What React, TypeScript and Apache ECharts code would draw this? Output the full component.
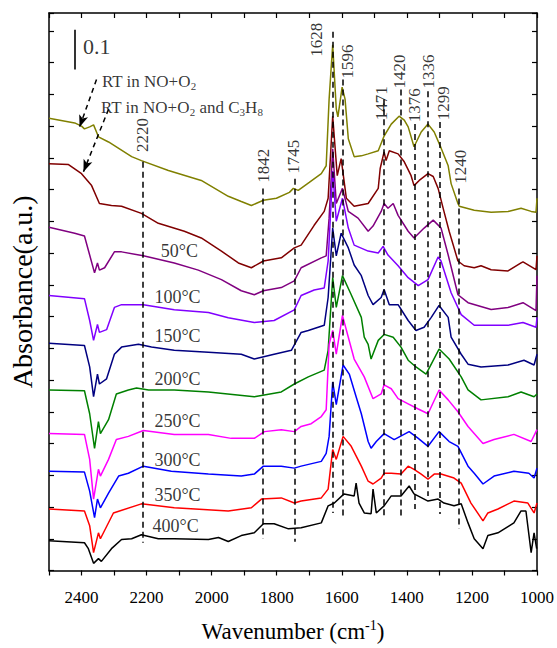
import React, { useEffect, useRef } from 'react';
import * as echarts from 'echarts';

const FONT = 'Liberation Serif';

// Spectra: [wavenumber (cm-1), stacked absorbance]
const rtNoO2: [number, number][] = [
  [2500, 1.140], [2421, 1.128], [2400, 1.120], [2391, 1.113], [2375, 1.118], [2363, 1.123], [2348, 1.093],
  [2317, 1.080], [2246, 1.043], [2216, 1.033], [2133, 1.008], [2032, 0.983], [1949, 0.943], [1909, 0.930],
  [1878, 0.920], [1841, 0.933], [1801, 0.938], [1761, 0.953], [1749, 0.963], [1734, 0.958], [1700, 0.978],
  [1663, 1.000], [1648, 1.020], [1639, 1.188], [1628, 1.325], [1617, 1.163], [1612, 1.143], [1599, 1.218],
  [1590, 1.188], [1580, 1.088], [1562, 1.043], [1540, 1.045], [1519, 1.050], [1488, 1.058], [1470, 1.095],
  [1448, 1.125], [1424, 1.145], [1408, 1.135], [1396, 1.118], [1378, 1.068], [1356, 1.105], [1335, 1.125],
  [1316, 1.105], [1295, 1.065], [1273, 1.020], [1264, 0.975], [1243, 0.925], [1239, 0.918], [1193, 0.908],
  [1141, 0.903], [1089, 0.905], [1049, 0.913], [1018, 0.905], [1003, 0.903], [1000, 0.938],
];
const rtNoO2C3H8: [number, number][] = [
  [2500, 1.025], [2440, 1.023], [2400, 1.000], [2369, 0.970], [2345, 0.925], [2308, 0.920], [2277, 0.918],
  [2216, 0.900], [2164, 0.875], [2084, 0.855], [2032, 0.838], [1970, 0.805], [1918, 0.775], [1878, 0.763],
  [1841, 0.780], [1786, 0.788], [1746, 0.813], [1725, 0.820], [1685, 0.870], [1654, 0.905], [1642, 0.938],
  [1628, 1.145], [1614, 0.995], [1602, 1.038], [1586, 0.938], [1562, 0.918], [1519, 0.925], [1488, 0.963],
  [1482, 1.013], [1470, 1.055], [1464, 1.033], [1454, 1.058], [1427, 1.050], [1408, 1.030], [1387, 0.995],
  [1378, 0.970], [1362, 0.983], [1335, 1.000], [1319, 0.993], [1304, 0.963], [1286, 0.905], [1270, 0.855],
  [1243, 0.780], [1224, 0.768], [1193, 0.763], [1172, 0.768], [1141, 0.758], [1089, 0.755], [1049, 0.775],
  [1043, 0.778], [1003, 0.758], [1000, 0.793],
];
const t50: [number, number][] = [
  [2500, 0.865], [2421, 0.850], [2391, 0.843], [2375, 0.795], [2360, 0.750], [2351, 0.775], [2345, 0.757],
  [2329, 0.763], [2299, 0.803], [2277, 0.803], [2210, 0.793], [2115, 0.775], [2041, 0.757], [1970, 0.733],
  [1909, 0.705], [1869, 0.695], [1841, 0.705], [1786, 0.713], [1746, 0.730], [1725, 0.763], [1663, 0.788],
  [1648, 0.793], [1639, 0.888], [1628, 1.063], [1617, 0.925], [1598, 0.963], [1580, 0.905], [1550, 0.888],
  [1519, 0.855], [1504, 0.868], [1479, 0.905], [1470, 0.925], [1458, 0.913], [1442, 0.925], [1427, 0.895],
  [1396, 0.855], [1378, 0.838], [1347, 0.863], [1319, 0.883], [1295, 0.863], [1273, 0.795], [1243, 0.695],
  [1212, 0.675], [1141, 0.658], [1089, 0.663], [1043, 0.675], [1003, 0.655], [1000, 0.743],
];
const t100: [number, number][] = [
  [2500, 0.693], [2391, 0.685], [2375, 0.630], [2363, 0.580], [2351, 0.620], [2345, 0.600], [2323, 0.607],
  [2299, 0.663], [2277, 0.670], [2210, 0.670], [2115, 0.657], [2010, 0.650], [1949, 0.637], [1869, 0.625],
  [1808, 0.630], [1746, 0.657], [1725, 0.693], [1685, 0.707], [1654, 0.712], [1642, 0.780], [1628, 1.007],
  [1617, 0.880], [1598, 0.938], [1580, 0.863], [1562, 0.820], [1519, 0.805], [1488, 0.800], [1473, 0.817],
  [1458, 0.795], [1427, 0.768], [1396, 0.738], [1365, 0.718], [1335, 0.733], [1304, 0.790], [1295, 0.780],
  [1264, 0.700], [1233, 0.645], [1193, 0.618], [1089, 0.618], [1043, 0.625], [1003, 0.613], [1000, 0.638],
];
const t150: [number, number][] = [
  [2500, 0.573], [2391, 0.567], [2375, 0.513], [2363, 0.438], [2351, 0.495], [2345, 0.470], [2323, 0.483],
  [2299, 0.545], [2277, 0.563], [2225, 0.570], [2185, 0.563], [2115, 0.555], [2010, 0.550], [1909, 0.545],
  [1869, 0.533], [1808, 0.545], [1755, 0.555], [1725, 0.600], [1703, 0.605], [1654, 0.618], [1642, 0.688],
  [1628, 0.863], [1617, 0.793], [1602, 0.850], [1580, 0.813], [1562, 0.770], [1540, 0.743], [1519, 0.693],
  [1504, 0.670], [1479, 0.688], [1470, 0.708], [1454, 0.670], [1427, 0.670], [1396, 0.630], [1372, 0.605],
  [1347, 0.613], [1325, 0.638], [1301, 0.668], [1273, 0.638], [1264, 0.588], [1233, 0.545], [1212, 0.520],
  [1172, 0.513], [1089, 0.518], [1040, 0.530], [1009, 0.518], [1000, 0.545],
];
const t200: [number, number][] = [
  [2500, 0.455], [2391, 0.453], [2375, 0.395], [2360, 0.308], [2348, 0.375], [2342, 0.345], [2317, 0.380],
  [2293, 0.445], [2256, 0.455], [2231, 0.460], [2194, 0.455], [2115, 0.455], [2010, 0.450], [1869, 0.438],
  [1786, 0.450], [1746, 0.470], [1703, 0.488], [1654, 0.505], [1642, 0.555], [1628, 0.738], [1617, 0.663],
  [1598, 0.743], [1571, 0.695], [1540, 0.638], [1531, 0.588], [1519, 0.570], [1510, 0.533], [1488, 0.580],
  [1470, 0.595], [1442, 0.588], [1418, 0.563], [1396, 0.530], [1372, 0.513], [1341, 0.495], [1301, 0.558],
  [1270, 0.533], [1233, 0.488], [1212, 0.455], [1172, 0.430], [1089, 0.438], [1049, 0.450], [1009, 0.438],
  [1000, 0.445],
];
const t250: [number, number][] = [
  [2500, 0.345], [2391, 0.343], [2375, 0.280], [2363, 0.180], [2348, 0.255], [2342, 0.238], [2317, 0.280],
  [2293, 0.330], [2256, 0.338], [2210, 0.353], [2115, 0.343], [2010, 0.343], [1940, 0.333], [1869, 0.333],
  [1838, 0.350], [1786, 0.355], [1746, 0.350], [1725, 0.363], [1694, 0.370], [1663, 0.388], [1648, 0.405],
  [1639, 0.570], [1628, 0.605], [1617, 0.545], [1598, 0.643], [1580, 0.588], [1562, 0.533], [1531, 0.488],
  [1504, 0.433], [1479, 0.445], [1470, 0.468], [1448, 0.458], [1427, 0.433], [1396, 0.420], [1365, 0.407],
  [1335, 0.395], [1301, 0.455], [1273, 0.430], [1243, 0.400], [1212, 0.363], [1166, 0.320], [1132, 0.330],
  [1071, 0.343], [1018, 0.325], [1000, 0.355],
];
const t300: [number, number][] = [
  [2500, 0.250], [2391, 0.248], [2375, 0.200], [2360, 0.133], [2351, 0.180], [2342, 0.158], [2317, 0.195],
  [2286, 0.238], [2256, 0.245], [2210, 0.263], [2124, 0.250], [2010, 0.243], [1909, 0.238], [1869, 0.243],
  [1841, 0.263], [1786, 0.263], [1746, 0.258], [1725, 0.263], [1663, 0.275], [1648, 0.295], [1639, 0.338],
  [1628, 0.475], [1617, 0.418], [1596, 0.518], [1577, 0.495], [1556, 0.438], [1540, 0.395], [1519, 0.325],
  [1510, 0.308], [1494, 0.325], [1470, 0.345], [1439, 0.330], [1393, 0.350], [1365, 0.333], [1335, 0.313],
  [1301, 0.350], [1270, 0.325], [1243, 0.313], [1212, 0.263], [1193, 0.245], [1166, 0.218], [1132, 0.238],
  [1071, 0.250], [1025, 0.245], [1009, 0.233], [1000, 0.258],
];
const t350: [number, number][] = [
  [2500, 0.155], [2391, 0.150], [2375, 0.113], [2363, 0.045], [2348, 0.095], [2342, 0.080], [2302, 0.145],
  [2216, 0.168], [2115, 0.158], [1949, 0.150], [1878, 0.158], [1847, 0.180], [1786, 0.183], [1746, 0.170],
  [1725, 0.175], [1663, 0.183], [1642, 0.205], [1628, 0.305], [1617, 0.280], [1596, 0.338], [1571, 0.313],
  [1540, 0.263], [1519, 0.225], [1504, 0.218], [1479, 0.233], [1470, 0.245], [1448, 0.245], [1418, 0.243],
  [1396, 0.263], [1378, 0.255], [1356, 0.243], [1335, 0.230], [1316, 0.243], [1295, 0.243], [1255, 0.233],
  [1233, 0.220], [1203, 0.170], [1166, 0.125], [1151, 0.145], [1120, 0.155], [1071, 0.175], [1028, 0.170],
  [1009, 0.145], [1000, 0.170],
];
const t400: [number, number][] = [
  [2500, 0.075], [2391, 0.070], [2379, 0.055], [2363, 0.018], [2348, 0.030], [2339, 0.023], [2308, 0.055],
  [2277, 0.078], [2246, 0.080], [2216, 0.090], [2164, 0.080], [2115, 0.080], [2010, 0.078], [1979, 0.083],
  [1949, 0.073], [1909, 0.088], [1869, 0.095], [1841, 0.118], [1808, 0.118], [1764, 0.105], [1725, 0.108],
  [1663, 0.120], [1642, 0.163], [1623, 0.170], [1593, 0.193], [1562, 0.188], [1556, 0.220], [1547, 0.170],
  [1531, 0.145], [1510, 0.143], [1504, 0.205], [1494, 0.145], [1470, 0.163], [1448, 0.188], [1418, 0.188],
  [1393, 0.213], [1378, 0.193], [1335, 0.175], [1304, 0.180], [1286, 0.170], [1255, 0.163], [1233, 0.168],
  [1212, 0.120], [1193, 0.080], [1166, 0.055], [1151, 0.088], [1120, 0.095], [1071, 0.120], [1049, 0.150],
  [1034, 0.150], [1018, 0.045], [1009, 0.095], [1001, 0.055],
];

const spectraNames = ['RT in NO+O2', 'RT in NO+O2 and C3H8', '50°C', '100°C', '150°C', '200°C', '250°C', '300°C', '350°C', '400°C'];
const spectraColors = ['#808000', '#800000', '#800080', '#8000ff', '#000080', '#008000', '#ff00ff', '#0000ff', '#ff0000', '#000000'];
const spectraData = [rtNoO2, rtNoO2C3H8, t50, t100, t150, t200, t250, t300, t350, t400];

// Dashed peak markers
const peakLabels = ['2220', '1842', '1745', '1628', '1596', '1471', '1420', '1376', '1336', '1299', '1240'];
const peakLineWn = [2212, 1842, 1745, 1628, 1596, 1471, 1420, 1376, 1336, 1299, 1240];
const peakLineTop = [1.03, 0.9625, 0.9875, 1.3575, 1.2375, 1.1875, 1.2125, 1.125, 1.2075, 1.13, 0.9625];
const peakLineBottom = [0.07, 0.08, 0.0725, 0.145, 0.1325, 0.1375, 0.1375, 0.155, 0.1875, 0.1425, 0.105];
const peakLabelWn = [2212, 1842, 1749, 1678, 1583, 1479, 1424, 1376, 1332, 1288, 1235];
const peakLabelA = [1.0975, 1.02, 1.0425, 1.3375, 1.2825, 1.1775, 1.2575, 1.1725, 1.2575, 1.1775, 1.0175];

// Temperature labels
const tempLabels = ['50°C', '100°C', '150°C', '200°C', '250°C', '300°C', '350°C', '400°C'];
const tempWn = [2099, 2105, 2105, 2105, 2105, 2105, 2105, 2111];
const tempA = [0.805, 0.69, 0.59, 0.4825, 0.3775, 0.2775, 0.19, 0.1125];

// Annotation texts and arrows
const rtTextWn = [2339, 2342];
const rtTextA = [1.2325, 1.1675];
const arrowStart: [number, number][] = [[2354, 1.2375], [2317, 1.1625]];
const arrowEnd: [number, number][] = [[2406, 1.1175], [2394, 1.005]];
const scaleBarWn = 2421;
const scaleBarA = [1.2625, 1.3625];
const scaleText = '0.1';
const scaleTextPos: [number, number] = [2397, 1.32];

export default function App() {
  const ref = useRef<HTMLDivElement>(null);
  useEffect(() => {
    if (!ref.current) return;
    const chart = echarts.init(ref.current, null, { renderer: 'svg' });
    const black = '#000';
    const axisLine = { show: true, onZero: false, lineStyle: { color: black, width: 1.5 } };

    const lineSeries = spectraData.map((d, i) => ({
      type: 'line',
      name: spectraNames[i],
      data: d,
      showSymbol: false,
      symbol: 'none',
      silent: true,
      z: 3,
      lineStyle: { color: spectraColors[i], width: 1.5 },
      itemStyle: { color: spectraColors[i] },
    }));

    const option: any = {
      animation: false,
      backgroundColor: '#fff',
      textStyle: { fontFamily: FONT },
      grid: { left: 47, right: 20, top: 13, bottom: 73 },
      xAxis: [
        {
          type: 'value', min: 1000, max: 2500, interval: 100, inverse: true, position: 'bottom',
          splitLine: { show: false }, axisLine,
          axisTick: { show: true, inside: false, length: 5, lineStyle: { color: black, width: 1.2 } },
          axisLabel: {
            interval: 0, margin: 18, fontSize: 17, fontFamily: FONT, color: black,
            formatter: (v: number) => (v % 200 === 0 ? String(v) : ''),
          },
          name: '{a|Wavenumber (cm}{s|-1}{a|)}', nameLocation: 'middle', nameGap: 48,
          nameTextStyle: {
            rich: {
              a: { fontSize: 23, fontFamily: FONT, color: black, lineHeight: 26 },
              s: { fontSize: 14, fontFamily: FONT, color: black, lineHeight: 12, verticalAlign: 'top' },
            },
          },
        },
        {
          type: 'value', min: 1000, max: 2500, interval: 100, inverse: true, position: 'top',
          splitLine: { show: false }, axisLine,
          axisTick: { show: true, inside: true, length: 5, lineStyle: { color: black, width: 1.2 } },
          axisLabel: { show: false },
        },
      ],
      yAxis: [
        {
          type: 'value', min: 0, max: 1.405, interval: 0.08, position: 'left',
          splitLine: { show: false }, axisLine,
          axisTick: { show: true, inside: true, length: 5, lineStyle: { color: black, width: 1.2 } },
          axisLabel: { show: false },
          name: 'Absorbance(a.u.)', nameLocation: 'middle', nameRotate: 90, nameGap: 13,
          nameTextStyle: { fontSize: 28, fontFamily: FONT, color: black },
        },
        {
          type: 'value', min: 0, max: 1.405, interval: 0.08, position: 'right',
          splitLine: { show: false }, axisLine,
          axisTick: { show: true, inside: true, length: 5, lineStyle: { color: black, width: 1.2 } },
          axisLabel: { show: false },
        },
      ],
      series: [
        ...lineSeries,
        {
          type: 'scatter', name: 'peaks', symbolSize: 1, silent: true, z: 5,
          itemStyle: { color: 'rgba(0,0,0,0)' },
          data: peakLabelWn.map((w, i) => ({ value: [w, peakLabelA[i]], label: { formatter: peakLabels[i] } })),
          label: { show: true, position: 'inside', rotate: 90, fontSize: 17, fontFamily: FONT, color: black },
          markLine: {
            silent: true, symbol: ['none', 'none'], label: { show: false },
            lineStyle: { color: black, width: 1.5, type: [6, 4] },
            emphasis: { disabled: true },
            data: peakLineWn.map((w, i) => [{ coord: [w, peakLineTop[i]] }, { coord: [w, peakLineBottom[i]] }]),
          },
        },
        {
          type: 'scatter', name: 'temps', symbolSize: 1, silent: true, z: 5,
          itemStyle: { color: 'rgba(0,0,0,0)' },
          data: tempWn.map((w, i) => ({ value: [w, tempA[i]], label: { formatter: tempLabels[i] } })),
          label: { show: true, position: 'inside', fontSize: 18, fontFamily: FONT, color: black },
        },
        {
          type: 'scatter', name: 'rt', symbolSize: 1, silent: true, z: 5,
          itemStyle: { color: 'rgba(0,0,0,0)' },
          data: [
            { value: [rtTextWn[0], rtTextA[0]], label: { formatter: '{a|RT in NO+O}{s|2}' } },
            { value: [rtTextWn[1], rtTextA[1]], label: { formatter: '{a|RT in NO+O}{s|2}{a| and C}{s|3}{a|H}{s|8}' } },
          ],
          label: {
            show: true, position: 'right', distance: 0,
            rich: {
              a: { fontSize: 17, fontFamily: FONT, color: black, lineHeight: 20 },
              s: { fontSize: 11, fontFamily: FONT, color: black, lineHeight: 10, verticalAlign: 'bottom' },
            },
          },
          markLine: {
            silent: true, label: { show: false },
            lineStyle: { color: black, width: 1.5, type: [5, 4] },
            emphasis: { disabled: true },
            data: arrowStart.map((s, i) => [
              { coord: s, symbol: 'none' },
              { coord: arrowEnd[i], symbol: 'arrow', symbolSize: [7, 12] },
            ]),
          },
        },
        {
          type: 'scatter', name: 'scale', symbolSize: 1, silent: true, z: 5,
          itemStyle: { color: 'rgba(0,0,0,0)' },
          data: [{ value: scaleTextPos, label: { formatter: scaleText } }],
          label: { show: true, position: 'right', distance: 0, fontSize: 22, fontFamily: FONT, color: black },
          markLine: {
            silent: true, symbol: ['none', 'none'], label: { show: false },
            lineStyle: { color: black, width: 1.6, type: 'solid' },
            emphasis: { disabled: true },
            data: [[{ coord: [scaleBarWn, scaleBarA[0]] }, { coord: [scaleBarWn, scaleBarA[1]] }]],
          },
        },
      ],
    };
    chart.setOption(option);
    return () => chart.dispose();
  }, []);
  return (
    <div
      ref={ref}
      style={{ position: 'fixed', left: 0, top: 0, width: 557, height: 648, background: '#fff' }}
    />
  );
}
